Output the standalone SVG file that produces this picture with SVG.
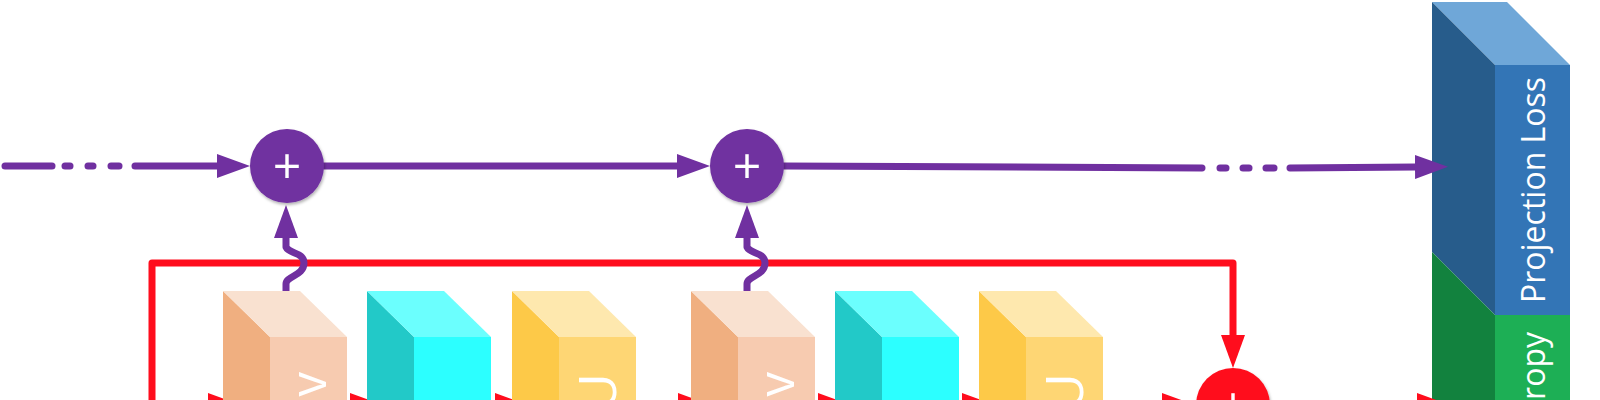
<svg xmlns="http://www.w3.org/2000/svg" width="1600" height="400" viewBox="0 0 1600 400">
  <style>
    .pl { stroke: #7030A0; stroke-width: 7; fill: none; stroke-linecap: round; stroke-linejoin: round; }
    .rd { stroke: #FF0D1D; stroke-width: 7; fill: none; stroke-linejoin: round; }
    .lbl { font-family: "Open Sans", "Liberation Sans", sans-serif; fill: #FFFFFF; }
    .cube-lbl { font-size: 49px; }
    .relu-lbl { font-size: 52px; }
    .loss-lbl { font-size: 32px; }
    .plus { font-family: "Open Sans", "Liberation Sans", sans-serif; font-size: 50px; fill: #FFFFFF; text-anchor: middle; }
    .pk-l { fill: #F0AF80; } .pk-t { fill: #F9E1D0; } .pk-f { fill: #F7CBB0; }
    .cy-l { fill: #22C9C8; } .cy-t { fill: #6BFFFE; } .cy-f { fill: #2CFFFF; }
    .ye-l { fill: #FDC948; } .ye-t { fill: #FEE8AE; } .ye-f { fill: #FED674; }
  </style>
  <defs>
    <marker id="ap" markerUnits="userSpaceOnUse" markerWidth="34" markerHeight="26" refX="0" refY="13" orient="auto">
      <path d="M0,1 L33,13 L0,25 Z" fill="#7030A0"/>
    </marker>
    <marker id="ar" markerUnits="userSpaceOnUse" markerWidth="34" markerHeight="26" refX="0" refY="13" orient="auto">
      <path d="M0,1 L33,13 L0,25 Z" fill="#FF0D1D"/>
    </marker>
    <filter id="sh" x="-20%" y="-20%" width="140%" height="140%">
      <feDropShadow dx="1" dy="2" stdDeviation="1.5" flood-color="#000" flood-opacity="0.3"/>
    </filter>
  </defs>

  <!-- loss block -->
  <g id="loss-block">
    <polygon points="1432,2 1507,2 1570,65 1495,65" fill="#6FA7D8"/>
    <polygon points="1432,2 1495,65 1495,315 1432,252" fill="#275C8B"/>
    <rect x="1495" y="65" width="75" height="250" fill="#3375B6"/>
    <polygon points="1432,252 1495,315 1495,420 1432,420" fill="#12823E"/>
    <rect x="1495" y="315" width="75" height="105" fill="#1DAF55"/>
    <text class="lbl loss-lbl" transform="translate(1545,190) rotate(-90)" text-anchor="middle">Projection Loss</text>
    <text class="lbl loss-lbl" transform="translate(1545,332) rotate(-90)" text-anchor="end">Entropy</text>
  </g>

  <g id="connectors">
    <!-- red skip connection -->
    <path class="rd" d="M152,420 V263 H1233 V335" marker-end="url(#ar)"/>
    <!-- red bottom arrows -->
    <path class="rd" d="M152,405 H208" marker-end="url(#ar)"/>
    <path class="rd" d="M347,405 H350" marker-end="url(#ar)"/>
    <path class="rd" d="M492,405 H495" marker-end="url(#ar)"/>
    <path class="rd" d="M635,405 H678" marker-end="url(#ar)"/>
    <path class="rd" d="M815,405 H818" marker-end="url(#ar)"/>
    <path class="rd" d="M959,405 H962" marker-end="url(#ar)"/>
    <path class="rd" d="M1103,405 H1162" marker-end="url(#ar)"/>
    <path class="rd" d="M1270,405 H1417" marker-end="url(#ar)"/>
    <!-- purple main line -->
    <line class="pl" x1="5" y1="166" x2="52" y2="166"/>
    <line class="pl" x1="65" y1="166" x2="70" y2="166"/>
    <line class="pl" x1="88" y1="166" x2="93" y2="166"/>
    <line class="pl" x1="111" y1="166" x2="119" y2="166"/>
    <line class="pl" x1="135" y1="166" x2="217" y2="166" marker-end="url(#ap)"/>
    <line class="pl" x1="324" y1="166" x2="677" y2="166" marker-end="url(#ap)"/>
    <line class="pl" x1="784" y1="166" x2="1202" y2="168"/>
    <line class="pl" x1="1220" y1="168" x2="1226" y2="168"/>
    <line class="pl" x1="1243" y1="168" x2="1249" y2="168"/>
    <line class="pl" x1="1266" y1="168" x2="1274" y2="168"/>
    <line class="pl" x1="1290" y1="168" x2="1415" y2="167" marker-end="url(#ap)"/>
    <!-- purple risers with hop over red line -->
    <path class="pl" d="M286,308 V284 C286,276 304,276 304,263 C304,252 289,254 286,247 V238" marker-end="url(#ap)"/>
    <path class="pl" d="M747,310 V284 C747,276 765,276 765,263 C765,252 750,254 747,247 V238" marker-end="url(#ap)"/>
  </g>

  <!-- group 1 cubes -->
  <g id="conv1" transform="translate(223,0)">
    <polygon class="pk-l" points="0,291 47,337 47,420 0,420"/>
    <polygon class="pk-t" points="0,291 77,291 124,337 47,337"/>
    <rect class="pk-f" x="47" y="337" width="77" height="83"/>
    <text class="lbl cube-lbl" transform="translate(103,372) rotate(-90)" text-anchor="end">Conv</text>
  </g>
  <g id="bn1" transform="translate(367,0)">
    <polygon class="cy-l" points="0,291 47,337 47,420 0,420"/>
    <polygon class="cy-t" points="0,291 77,291 124,337 47,337"/>
    <rect class="cy-f" x="47" y="337" width="77" height="83"/>
    <text class="lbl cube-lbl" transform="translate(103,399) rotate(-90)" text-anchor="end">BN</text>
  </g>
  <g id="relu1" transform="translate(512,0)">
    <polygon class="ye-l" points="0,291 47,337 47,420 0,420"/>
    <polygon class="ye-t" points="0,291 77,291 124,337 47,337"/>
    <rect class="ye-f" x="47" y="337" width="77" height="83"/>
    <text class="lbl relu-lbl" transform="translate(104,373) rotate(-90)" text-anchor="end">ReLU</text>
  </g>

  <!-- group 2 cubes -->
  <g id="conv2" transform="translate(691,0)">
    <polygon class="pk-l" points="0,291 47,337 47,420 0,420"/>
    <polygon class="pk-t" points="0,291 77,291 124,337 47,337"/>
    <rect class="pk-f" x="47" y="337" width="77" height="83"/>
    <text class="lbl cube-lbl" transform="translate(103,372) rotate(-90)" text-anchor="end">Conv</text>
  </g>
  <g id="bn2" transform="translate(835,0)">
    <polygon class="cy-l" points="0,291 47,337 47,420 0,420"/>
    <polygon class="cy-t" points="0,291 77,291 124,337 47,337"/>
    <rect class="cy-f" x="47" y="337" width="77" height="83"/>
    <text class="lbl cube-lbl" transform="translate(103,399) rotate(-90)" text-anchor="end">BN</text>
  </g>
  <g id="relu2" transform="translate(979,0)">
    <polygon class="ye-l" points="0,291 47,337 47,420 0,420"/>
    <polygon class="ye-t" points="0,291 77,291 124,337 47,337"/>
    <rect class="ye-f" x="47" y="337" width="77" height="83"/>
    <text class="lbl relu-lbl" transform="translate(104,373) rotate(-90)" text-anchor="end">ReLU</text>
  </g>

  <!-- adders -->
  <g id="add1">
    <circle cx="287" cy="166" r="37" fill="#7030A0" filter="url(#sh)"/>
    <text class="plus" x="287" y="184">+</text>
  </g>
  <g id="add2">
    <circle cx="747" cy="166" r="37" fill="#7030A0" filter="url(#sh)"/>
    <text class="plus" x="747" y="184">+</text>
  </g>
  <g id="add-res">
    <circle cx="1233" cy="405" r="37" fill="#FF0D1D" filter="url(#sh)"/>
    <text class="plus" x="1233" y="423">+</text>
  </g>
</svg>
